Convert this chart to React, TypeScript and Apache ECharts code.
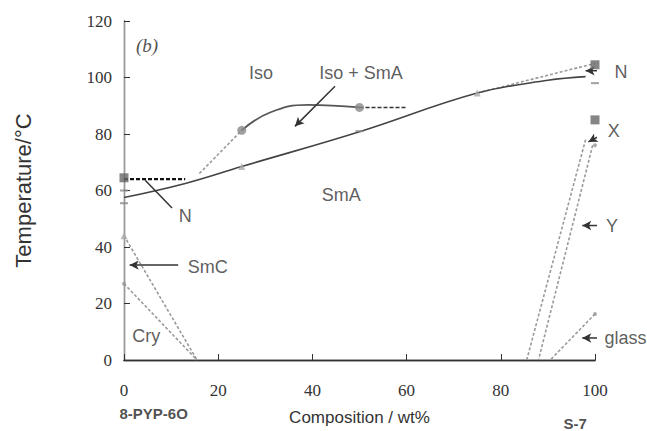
import React, { useEffect, useRef } from "react";
import * as echarts from "echarts";

// ---- data (composition wt% of S-7, temperature °C) ----
const xTickValues = [0, 20, 40, 60, 80, 100];
const yTickValues = [0, 20, 40, 60, 80, 100, 120];

const smaBoundary = [[0, 57.5], [13, 62.5], [25, 68.5], [50, 80.8], [75, 94.5], [90, 99], [98, 100.3]];
const isoCurve = [[25, 81.3], [31, 87.6], [39, 90.3], [50, 89.4]];
const nDashLeft = [[0, 64], [13, 64]];
const isoDash = [[50, 89.4], [60, 89.4]];
const grayDash1 = [[16, 66], [25, 81.3]];
const grayDash2 = [[75, 94.5], [100, 105]];
const grayDash3 = [[0, 44], [15.5, 0]];
const grayDash4 = [[0, 27], [15.5, 0]];
const grayDash5 = [[98, 78], [85.5, 0]];
const grayDash6 = [[99.5, 76], [88, 0]];
const grayDash7 = [[100, 16.3], [90.5, 0]];

const squarePts = [[0, 64.5], [100, 104.5], [100, 85]];
const circlePts = [[25, 81.3], [50, 89.4]];
const trianglePts = [[25, 68.5], [75, 94.5], [0, 44]];
const dashPts = [[50, 81], [100, 98], [0, 55.5], [0, 60]];
const smallPts = [[0, 27], [100, 76], [100, 16.3]];

const regionLabels = ["Iso", "Iso + SmA", "SmA", "N", "SmC", "Cry", "N", "X", "Y", "glass"];
const regionLabelPos = [[29.1, 101.7], [50.3, 101.7], [46.1, 58.4], [13, 51], [17.8, 32.9], [4.7, 8.4], [105.5, 102.1], [104, 81.1], [103.6, 47.4], [106.5, 7.8]];
const panelLabel = "(b)";
const panelLabelPos = [4.9, 111.5];
const componentLabels = ["8-PYP-6O", "S-7"];
const componentLabelPos = [[6.3, -18.9], [95.8, -22.6]];

const arrowLines = [
  [[44.8, 96.9], [36.3, 82.7]],
  [[104, 102.4], [98, 102.4]],
  [[102.5, 80.7], [98.6, 77.2]],
  [[102.1, 47.6], [97.3, 47.6]],
  [[101.1, 7.8], [97.3, 7.8]],
  [[11.5, 33.6], [1.2, 33.6]],
];
const plainLines = [[[10.2, 53.8], [4.5, 63.6]]];

// approximate pixel size of one data unit, used only to orient arrow heads
const PX_PER_X = 4.71;
const PX_PER_Y = 2.86;

const App: React.FC = () => {
  const ref = useRef<HTMLDivElement>(null);
  useEffect(() => {
    if (!ref.current) return;
    const chart = echarts.init(ref.current, null, { renderer: "svg" });
    const sans = "Liberation Sans, Arial, sans-serif";
    const serif = "Liberation Serif, Times New Roman, serif";
    const dashGray = (data: number[][]) => ({
      type: "line", data, showSymbol: false, symbol: "none", clip: false, silent: true,
      lineStyle: { color: "#9a9a9a", width: 1.6, type: [3, 2] }, z: 2,
    });
    const arrowSeries = arrowLines.map((l) => {
      const dx = (l[1][0] - l[0][0]) * PX_PER_X;
      const dy = (l[1][1] - l[0][1]) * PX_PER_Y;
      const rot = (Math.atan2(dy, dx) * 180) / Math.PI - 90;
      return {
        type: "line", clip: false, silent: true, z: 4,
        data: [
          { value: l[0], symbol: "none" },
          { value: l[1], symbol: "arrow", symbolSize: [7, 9], symbolRotate: rot },
        ],
        showSymbol: true,
        itemStyle: { color: "#333" },
        lineStyle: { color: "#333", width: 1.5 },
      };
    });
    const plainSeries = plainLines.map((l) => ({
      type: "line", clip: false, silent: true, z: 4, data: l, symbol: "none", showSymbol: false,
      lineStyle: { color: "#333", width: 1.5 },
    }));
    const option: any = {
      animation: false,
      backgroundColor: "#fff",
      grid: { left: 124, right: 52, top: 21, bottom: 67, containLabel: false },
      xAxis: [
        {
          type: "value", min: 0, max: 100, interval: 20, position: "bottom",
          name: "Composition / wt%", nameLocation: "middle", nameGap: 49,
          nameTextStyle: { fontFamily: sans, fontSize: 17, color: "#333" },
          axisLine: { lineStyle: { color: "#333", width: 1.3 } },
          axisTick: { inside: true, length: 6, lineStyle: { color: "#333" } },
          axisLabel: { fontFamily: serif, fontSize: 17, color: "#333", margin: 22,
            formatter: (v: number) => (xTickValues.includes(v) ? String(v) : "") },
          splitLine: { show: false },
        },
        {
          type: "value", min: 0, max: 100, position: "top",
          axisLine: { show: true, lineStyle: { color: "#333", width: 1.3 } },
          axisTick: { show: false }, axisLabel: { show: false }, splitLine: { show: false },
        },
      ],
      yAxis: [
        {
          type: "value", min: 0, max: 120, interval: 20, position: "left",
          name: "Temperature/°C", nameLocation: "middle", nameGap: 90, nameRotate: 90,
          nameTextStyle: { fontFamily: sans, fontSize: 22, color: "#333" },
          axisLine: { show: true, lineStyle: { color: "#333", width: 1.3 } },
          axisTick: { show: true, inside: true, length: 6, lineStyle: { color: "#333" } },
          axisLabel: { fontFamily: serif, fontSize: 17, color: "#333", margin: 12,
            formatter: (v: number) => (yTickValues.includes(v) ? String(v) : "") },
          splitLine: { show: false },
        },
        {
          type: "value", min: 0, max: 120, position: "right",
          axisLine: { show: true, lineStyle: { color: "#999", width: 1.2 } },
          axisTick: { show: false }, axisLabel: { show: false }, splitLine: { show: false },
        },
      ],
      series: [
        {
          type: "line", data: smaBoundary, smooth: 0.4, showSymbol: false, symbol: "none", silent: true,
          lineStyle: { color: "#444", width: 1.6 }, z: 3,
        },
        {
          type: "line", data: isoCurve, smooth: 0.45, showSymbol: false, symbol: "none", silent: true,
          lineStyle: { color: "#555", width: 1.8 }, z: 3,
        },
        {
          type: "line", data: nDashLeft, showSymbol: false, symbol: "none", silent: true,
          lineStyle: { color: "#111", width: 2.2, type: [4, 2] }, z: 3,
        },
        {
          type: "line", data: isoDash, showSymbol: false, symbol: "none", silent: true,
          lineStyle: { color: "#333", width: 1.4, type: [4, 2] }, z: 3,
        },
        dashGray(grayDash1), dashGray(grayDash2), dashGray(grayDash3), dashGray(grayDash4),
        dashGray(grayDash5), dashGray(grayDash6), dashGray(grayDash7),
        { type: "scatter", data: squarePts, symbol: "rect", symbolSize: 9, clip: false,
          itemStyle: { color: "#666" }, z: 5 },
        { type: "scatter", data: circlePts, symbol: "circle", symbolSize: 9, clip: false,
          itemStyle: { color: "#888" }, z: 5 },
        { type: "scatter", data: trianglePts, symbol: "triangle", symbolSize: 7, clip: false,
          itemStyle: { color: "#aaa" }, z: 5 },
        { type: "scatter", data: dashPts, symbol: "rect", symbolSize: [8, 2], clip: false,
          itemStyle: { color: "#888" }, z: 5 },
        { type: "scatter", data: smallPts, symbol: "circle", symbolSize: 4, clip: false,
          itemStyle: { color: "#999" }, z: 5 },
        ...arrowSeries,
        ...plainSeries,
        {
          type: "scatter", symbolSize: 0, clip: false, silent: true, z: 6,
          data: regionLabels.map((t, i) => ({ value: regionLabelPos[i], name: t })),
          label: {
            show: true, position: "inside", color: "#333", fontFamily: sans, fontSize: 18,
            formatter: (p: any) => p.name,
          },
          labelLayout: { hideOverlap: false },
        },
        {
          type: "scatter", symbolSize: 0, clip: false, silent: true, z: 6,
          data: [{ value: panelLabelPos, name: panelLabel }],
          label: {
            show: true, position: "inside", color: "#222", fontFamily: serif, fontSize: 19,
            fontStyle: "italic", formatter: (p: any) => p.name,
          },
        },
        {
          type: "scatter", symbolSize: 0, clip: false, silent: true, z: 6,
          data: componentLabels.map((t, i) => ({ value: componentLabelPos[i], name: t })),
          label: {
            show: true, position: "inside", color: "#222", fontFamily: sans, fontSize: 15,
            fontWeight: "bold", formatter: (p: any) => p.name,
          },
          labelLayout: { hideOverlap: false },
        },
      ],
    };
    chart.setOption(option);
    return () => chart.dispose();
  }, []);
  return (
    <div
      ref={ref}
      style={{ position: "fixed", left: 0, top: 0, width: 647, height: 431 }}
    />
  );
};

export default App;
